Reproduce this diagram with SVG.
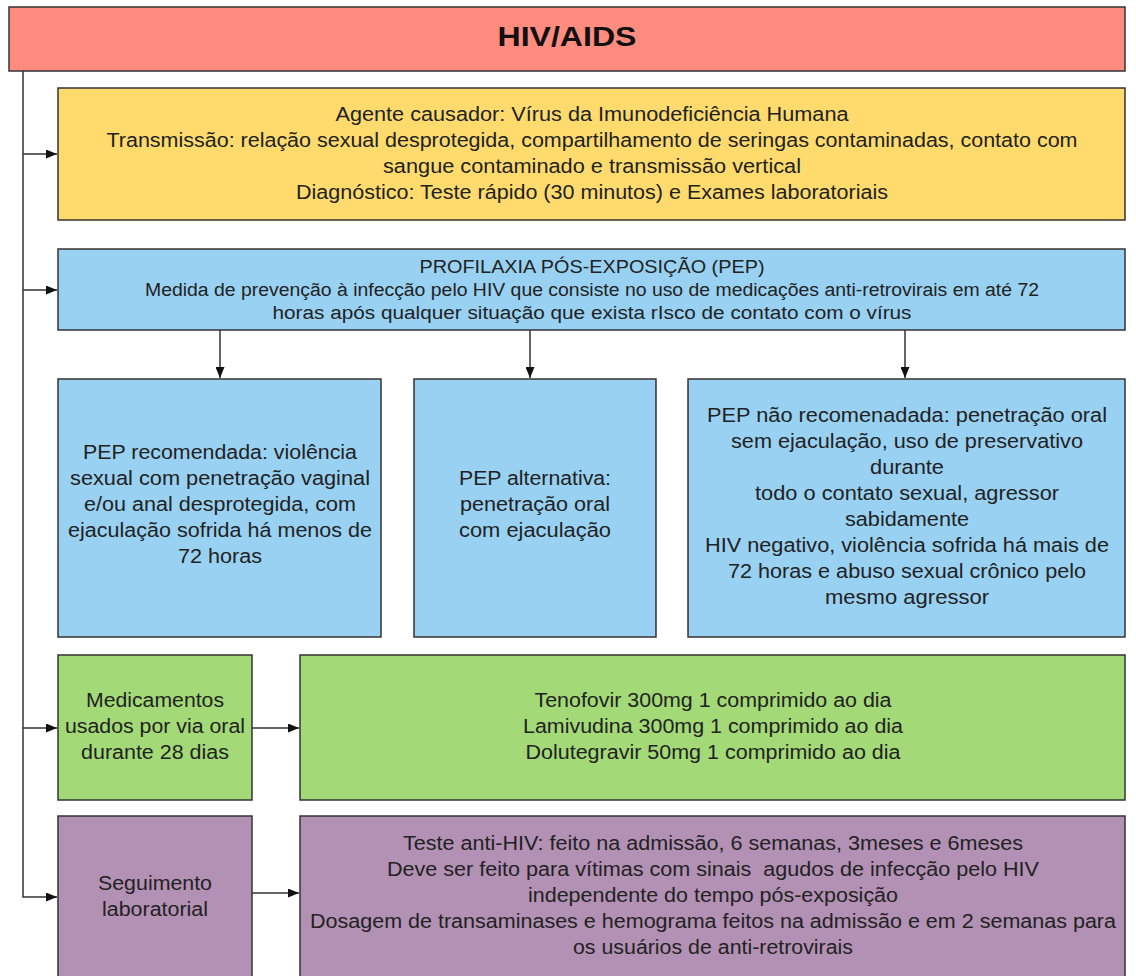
<svg xmlns="http://www.w3.org/2000/svg" width="1136" height="976" viewBox="0 0 1136 976">
<defs>
<marker id="ah" markerUnits="userSpaceOnUse" markerWidth="12" markerHeight="9" refX="11" refY="4.5" orient="auto">
<path d="M0,0 L11,4.5 L0,9 z" fill="#111"/>
</marker>
<style>
.box{stroke:#333;stroke-width:1.5}
.t{font-family:"Liberation Sans",Arial,sans-serif;font-size:20px;fill:#222;text-anchor:middle}
.s{font-size:18px}
.h{font-family:"Liberation Sans",Arial,sans-serif;font-size:28px;font-weight:bold;fill:#111;text-anchor:middle}
.c{fill:none;stroke:#333;stroke-width:1.5}
.red{fill:#FF8C7F}.yel{fill:#FFDB6E}.blu{fill:#99D1F2}.grn{fill:#A3D977}.pur{fill:#B291B5}
</style>
</defs>
<g id="connectors">
<path class="c" d="M23,71 V897 H57" marker-end="url(#ah)"/>
<path class="c" d="M23,154 H57" marker-end="url(#ah)"/>
<path class="c" d="M23,290 H57" marker-end="url(#ah)"/>
<path class="c" d="M23,728 H57" marker-end="url(#ah)"/>
<path class="c" d="M220,330 V378" marker-end="url(#ah)"/>
<path class="c" d="M530,330 V378" marker-end="url(#ah)"/>
<path class="c" d="M905,330 V378" marker-end="url(#ah)"/>
<path class="c" d="M252,728 H299" marker-end="url(#ah)"/>
<path class="c" d="M252,893 H299" marker-end="url(#ah)"/>
</g>
<g id="header">
<rect class="box red" x="9" y="7" width="1116" height="64"/>
<text class="h" x="567" y="46" textLength="139" lengthAdjust="spacingAndGlyphs">HIV/AIDS</text>
</g>
<g id="info">
<rect class="box yel" x="58" y="88" width="1067" height="132"/>
<text class="t" x="592" y="121" textLength="513" lengthAdjust="spacingAndGlyphs">Agente causador: Vírus da Imunodeficiência Humana</text>
<text class="t" x="592" y="147" textLength="971" lengthAdjust="spacingAndGlyphs">Transmissão: relação sexual desprotegida, compartilhamento de seringas contaminadas, contato com</text>
<text class="t" x="592" y="173" textLength="418" lengthAdjust="spacingAndGlyphs">sangue contaminado e transmissão vertical</text>
<text class="t" x="592" y="199" textLength="592" lengthAdjust="spacingAndGlyphs">Diagnóstico: Teste rápido (30 minutos) e Exames laboratoriais</text>
</g>
<g id="pep">
<rect class="box blu" x="58" y="249" width="1067" height="81"/>
<text class="t s" x="592" y="273" textLength="345" lengthAdjust="spacingAndGlyphs">PROFILAXIA PÓS-EXPOSIÇÃO (PEP)</text>
<text class="t s" x="592" y="296" textLength="894" lengthAdjust="spacingAndGlyphs">Medida de prevenção à infecção pelo HIV que consiste no uso de medicações anti-retrovirais em até 72</text>
<text class="t s" x="592" y="319" textLength="639" lengthAdjust="spacingAndGlyphs">horas após qualquer situação que exista rIsco de contato com o vírus</text>
</g>
<g id="pep-recomendada">
<rect class="box blu" x="58" y="379" width="323" height="258"/>
<text class="t" x="220" y="459" textLength="274" lengthAdjust="spacingAndGlyphs">PEP recomendada: violência</text>
<text class="t" x="220" y="485" textLength="300" lengthAdjust="spacingAndGlyphs">sexual com penetração vaginal</text>
<text class="t" x="220" y="511" textLength="272" lengthAdjust="spacingAndGlyphs">e/ou anal desprotegida, com</text>
<text class="t" x="220" y="537" textLength="304" lengthAdjust="spacingAndGlyphs">ejaculação sofrida há menos de</text>
<text class="t" x="220" y="563" textLength="84" lengthAdjust="spacingAndGlyphs">72 horas</text>
</g>
<g id="pep-alternativa">
<rect class="box blu" x="414" y="379" width="242" height="258"/>
<text class="t" x="535" y="485" textLength="152" lengthAdjust="spacingAndGlyphs">PEP alternativa:</text>
<text class="t" x="535" y="511" textLength="150" lengthAdjust="spacingAndGlyphs">penetração oral</text>
<text class="t" x="535" y="537" textLength="152" lengthAdjust="spacingAndGlyphs">com ejaculação</text>
</g>
<g id="pep-nao-recomendada">
<rect class="box blu" x="688" y="379" width="437" height="258"/>
<text class="t" x="907" y="422" textLength="400" lengthAdjust="spacingAndGlyphs">PEP não recomenadada: penetração oral</text>
<text class="t" x="907" y="448" textLength="352" lengthAdjust="spacingAndGlyphs">sem ejaculação, uso de preservativo</text>
<text class="t" x="907" y="474" textLength="74" lengthAdjust="spacingAndGlyphs">durante</text>
<text class="t" x="907" y="500" textLength="304" lengthAdjust="spacingAndGlyphs">todo o contato sexual, agressor</text>
<text class="t" x="907" y="526" textLength="124" lengthAdjust="spacingAndGlyphs">sabidamente</text>
<text class="t" x="907" y="552" textLength="404" lengthAdjust="spacingAndGlyphs">HIV negativo, violência sofrida há mais de</text>
<text class="t" x="907" y="578" textLength="358" lengthAdjust="spacingAndGlyphs">72 horas e abuso sexual crônico pelo</text>
<text class="t" x="907" y="604" textLength="164" lengthAdjust="spacingAndGlyphs">mesmo agressor</text>
</g>
<g id="medicamentos">
<rect class="box grn" x="58" y="655" width="194" height="145"/>
<text class="t" x="155" y="707" textLength="138" lengthAdjust="spacingAndGlyphs">Medicamentos</text>
<text class="t" x="155" y="733" textLength="180" lengthAdjust="spacingAndGlyphs">usados por via oral</text>
<text class="t" x="155" y="759" textLength="148" lengthAdjust="spacingAndGlyphs">durante 28 dias</text>
</g>
<g id="medicamentos-lista">
<rect class="box grn" x="300" y="655" width="825" height="145"/>
<text class="t" x="713" y="707" textLength="357" lengthAdjust="spacingAndGlyphs">Tenofovir 300mg 1 comprimido ao dia</text>
<text class="t" x="713" y="733" textLength="380" lengthAdjust="spacingAndGlyphs">Lamivudina 300mg 1 comprimido ao dia</text>
<text class="t" x="713" y="759" textLength="375" lengthAdjust="spacingAndGlyphs">Dolutegravir 50mg 1 comprimido ao dia</text>
</g>
<g id="seguimento">
<rect class="box pur" x="58" y="816" width="194" height="180"/>
<text class="t" x="155" y="890" textLength="114" lengthAdjust="spacingAndGlyphs">Seguimento</text>
<text class="t" x="155" y="916" textLength="106" lengthAdjust="spacingAndGlyphs">laboratorial</text>
</g>
<g id="seguimento-detalhes">
<rect class="box pur" x="300" y="816" width="825" height="180"/>
<text class="t" x="713" y="850" textLength="620" lengthAdjust="spacingAndGlyphs">Teste anti-HIV: feito na admissão, 6 semanas, 3meses e 6meses</text>
<text class="t" x="713" y="876" textLength="652" lengthAdjust="spacingAndGlyphs" xml:space="preserve">Deve ser feito para vítimas com sinais  agudos de infecção pelo HIV</text>
<text class="t" x="713" y="902" textLength="370" lengthAdjust="spacingAndGlyphs">independente do tempo pós-exposição</text>
<text class="t" x="713" y="928" textLength="806" lengthAdjust="spacingAndGlyphs">Dosagem de transaminases e hemograma feitos na admissão e em 2 semanas para</text>
<text class="t" x="713" y="954" textLength="280" lengthAdjust="spacingAndGlyphs">os usuários de anti-retrovirais</text>
</g>
</svg>
